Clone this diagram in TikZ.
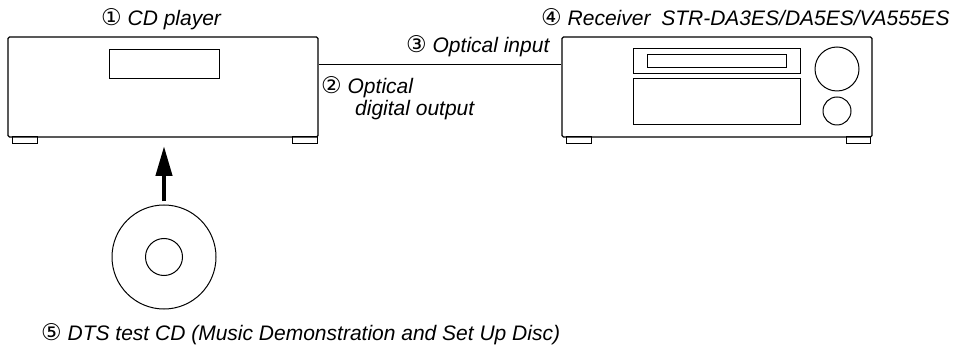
\documentclass[tikz,border=0pt]{standalone}
\usepackage{fontspec}
\setmainfont{Liberation Sans}
\newfontfamily\circfont{DejaVu Sans}
\usetikzlibrary{arrows.meta}
\newcommand\cnum[1]{{\upshape\circfont\fontsize{23}{23}\selectfont #1}}
\tikzset{
  lbl/.style={inner sep=0pt, anchor=base west, font=\fontsize{21}{24}\selectfont\itshape},
  outline/.style={draw, line width=1.1pt, rounded corners=1.5pt, inner sep=0pt},
  part/.style={draw, line width=1pt, inner sep=0pt},
  foot/.style={draw, line width=1pt},
}
\begin{document}
\begin{tikzpicture}[x=1pt,y=-1pt]
\useasboundingbox (0,0) rectangle (957,352);
% CD player
\node[outline, minimum width=310pt, minimum height=100pt] (cd) at (163,87) {};
\node[part, minimum width=110pt, minimum height=29pt] (disp) at (164,64.5) {};
\draw[foot] (12,137) rectangle (37,144);
\draw[foot] (292,137) rectangle (317,144);
% Receiver
\node[outline, minimum width=310pt, minimum height=100pt] (rec) at (717,87) {};
\node[part, minimum width=167pt, minimum height=25pt] (upper) at (716.5,61.5) {};
\node[part, minimum width=139pt, minimum height=13pt] (slot) at (716.5,61.5) {};
\node[part, minimum width=167pt, minimum height=46pt] (lower) at (716.5,102) {};
\node[part, circle, minimum size=44pt] (knob1) at (837,69) {};
\node[part, circle, minimum size=28pt] (knob2) at (837,111) {};
\draw[foot] (566,137) rectangle (591,144);
\draw[foot] (846,137) rectangle (870,144);
% optical cable
\draw[line width=1pt] (cd.east |- disp) -- (rec.west |- disp);
% disc
\node[part, circle, minimum size=104pt] (disc) at (164,257) {};
\node[part, circle, minimum size=37pt] (hole) at (164,257) {};
\coordinate (tip) at (164,146);
\draw[line width=4.3pt, -{Triangle[length=30pt,width=16pt]}] ([yshift=3pt]disc.north) -- (tip);
% labels
\node[lbl] (l1) at (101,26) {\cnum{①} CD player};
\node[lbl] (l4) at (541,26) {\cnum{④} Receiver\hspace{5pt} STR-DA3ES/DA5ES/VA555ES};
\node[lbl] (l3) at (406,53) {\cnum{③} Optical input};
\node[lbl] (l2a) at (321,94) {\cnum{②} Optical};
\node[lbl] (l2b) at (355,116) {digital output};
\node[lbl] (l5) at (41,340) {\cnum{⑤} DTS test CD (Music Demonstration and Set Up Disc)};
\end{tikzpicture}
\end{document}
